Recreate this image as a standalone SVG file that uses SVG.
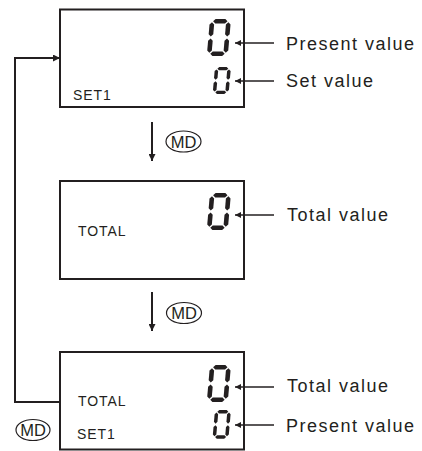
<svg xmlns="http://www.w3.org/2000/svg" xmlns:xlink="http://www.w3.org/1999/xlink" width="422" height="451" viewBox="0 0 422 451">
<style>
.box{fill:none;stroke:#231f20;stroke-width:2}
.conn{fill:none;stroke:#231f20;stroke-width:2}
.lead{fill:none;stroke:#231f20;stroke-width:1.3}
.seg{fill:#231f20}
.lbl{font-family:"Liberation Sans",Arial,sans-serif;font-size:18px;letter-spacing:1.5px;fill:#231f20}
.tag{font-family:"Liberation Sans",Arial,sans-serif;font-size:14px;letter-spacing:0.9px;fill:#231f20}
.md{font-family:"Liberation Sans",Arial,sans-serif;font-size:16.5px;fill:#231f20;text-anchor:middle}
.mdo{fill:none;stroke:#231f20;stroke-width:1.2}
</style>
<defs>
<marker id="ah" viewBox="0 0 10 10" refX="10" refY="5" markerWidth="6" markerHeight="6" orient="auto" markerUnits="userSpaceOnUse">
<path d="M0,0 L10,5 L0,10 z" fill="#231f20"/>
</marker>
<marker id="ahb" viewBox="0 0 10 10" refX="10" refY="5" markerWidth="7" markerHeight="7" orient="auto" markerUnits="userSpaceOnUse">
<path d="M0,0 L10,5 L0,10 z" fill="#231f20"/>
</marker>
<g id="zero" class="seg">
<polygon points="3.3,2.3 5.6,0 15.4,0 17.7,2.3 15.4,4.6 5.6,4.6"/>
<polygon points="3.3,34.7 5.6,32.4 15.4,32.4 17.7,34.7 15.4,37 5.6,37"/>
<polygon points="2.3,3.3 4.6,5.6 4.6,15.2 2.3,17.5 0,15.2 0,5.6"/>
<polygon points="2.3,19.5 4.6,21.8 4.6,31.4 2.3,33.7 0,31.4 0,21.8"/>
<polygon points="18.7,3.3 21,5.6 21,15.2 18.7,17.5 16.4,15.2 16.4,5.6"/>
<polygon points="18.7,19.5 21,21.8 21,31.4 18.7,33.7 16.4,31.4 16.4,21.8"/>
</g>
</defs>

<g id="node-set1">
<rect class="box" x="60" y="9.5" width="184" height="97.5"/>
<use xlink:href="#zero" transform="translate(210,19) skewX(-5)"/>
<use xlink:href="#zero" transform="translate(215,67) skewX(-5) scale(0.76,0.73)"/>
<text class="tag" x="73" y="100">SET1</text>
<text class="lbl" x="286" y="50">Present value</text>
<text class="lbl" x="286" y="87">Set value</text>
</g>

<g id="node-total">
<rect class="box" x="60" y="181" width="184" height="98"/>
<use xlink:href="#zero" transform="translate(210,193) skewX(-5)"/>
<text class="tag" x="78" y="236">TOTAL</text>
<text class="lbl" x="287" y="221">Total value</text>
</g>

<g id="node-total-set1">
<rect class="box" x="60" y="352" width="184" height="97.5"/>
<use xlink:href="#zero" transform="translate(210,365) skewX(-5)"/>
<use xlink:href="#zero" transform="translate(215,410) skewX(-5) scale(0.76,0.78)"/>
<text class="tag" x="78" y="406">TOTAL</text>
<text class="tag" x="77" y="439">SET1</text>
<text class="lbl" x="287" y="392">Total value</text>
<text class="lbl" x="286" y="432">Present value</text>
</g>

<g id="connectors">
<line class="conn" x1="152" y1="122" x2="152" y2="161" marker-end="url(#ahb)"/>
<line class="conn" x1="152" y1="292" x2="152" y2="331" marker-end="url(#ahb)"/>
<polyline class="conn" points="60,402 15,402 15,58 60,58" marker-end="url(#ahb)"/>
<line class="lead" x1="274" y1="43" x2="235" y2="43" marker-end="url(#ah)"/>
<line class="lead" x1="274" y1="81" x2="235" y2="81" marker-end="url(#ah)"/>
<line class="lead" x1="274" y1="215" x2="235" y2="215" marker-end="url(#ah)"/>
<line class="lead" x1="274" y1="387" x2="235" y2="387" marker-end="url(#ah)"/>
<line class="lead" x1="274" y1="425" x2="235" y2="425" marker-end="url(#ah)"/>
<g id="md1"><ellipse class="mdo" cx="183.5" cy="141.5" rx="17.5" ry="10.5"/><text class="md" x="183.5" y="147.5">MD</text></g>
<g id="md2"><ellipse class="mdo" cx="184" cy="313" rx="17.5" ry="10.5"/><text class="md" x="184" y="319">MD</text></g>
<g id="md3"><ellipse class="mdo" cx="33" cy="430" rx="17" ry="10.5"/><text class="md" x="33" y="436">MD</text></g>
</g>
</svg>
